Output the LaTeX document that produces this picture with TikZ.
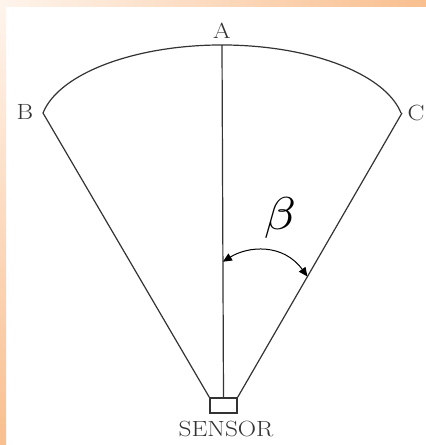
\documentclass[tikz,border=0pt]{standalone}
\usepackage{fontspec}
\usetikzlibrary{arrows.meta,calc}
\definecolor{bandorange}{HTML}{F9BF8F}
\definecolor{bandpale}{HTML}{FEF4EC}
\definecolor{inkgray}{HTML}{333333}
\begin{document}
\begin{tikzpicture}[x=1pt,y=-1pt,
  ink/.style={draw=inkgray,line width=1.2pt},
  lbl/.style={text=inkgray,font=\fontsize{22}{26}\selectfont,inner sep=0pt,xscale=1.15},
  anglearrow/.style={draw=black,line width=1pt,>={Triangle[length=9pt,width=8pt]},<->}]
\useasboundingbox (0,0) rectangle (426,445);
\fill[white] (0,0) rectangle (426,445);
\shade[left color=bandpale,right color=bandorange] (0,0) rectangle (426,6);
\shade[top color=bandpale,bottom color=bandorange] (0,6) rectangle (6,445);
\coordinate (A) at (222,45);
\coordinate (B) at (43,113);
\coordinate (C) at (402,113);
\node[ink,minimum width=27pt,minimum height=15pt,inner sep=0pt] (S) at (223.5,405.5) {};
\draw[ink] (B) arc[start angle=190.4,end angle=349.6,x radius=182,y radius=83];
\draw[ink] (A) -- (S.north);
\draw[ink] (B) -- (S.north west);
\draw[ink] (C) -- (S.north east);
\coordinate (P1) at ($(A)!0.615!(S.north)$);
\coordinate (P2) at ($(C)!0.575!(S.north east)$);
\draw[anglearrow] (P1) .. controls (248,246) and (283,243) .. (P2);
\node[lbl] (lA) at (222,31) {A};
\node[lbl] (lB) at (25,112) {B};
\node[lbl] (lC) at (416,113) {C};
\node[lbl] (lS) at (226,429) {SENSOR};
\node[text=black,inner sep=0pt,xscale=5.2,yscale=4.6] (beta) at (280,218) {$\beta$};
\end{tikzpicture}
\end{document}
